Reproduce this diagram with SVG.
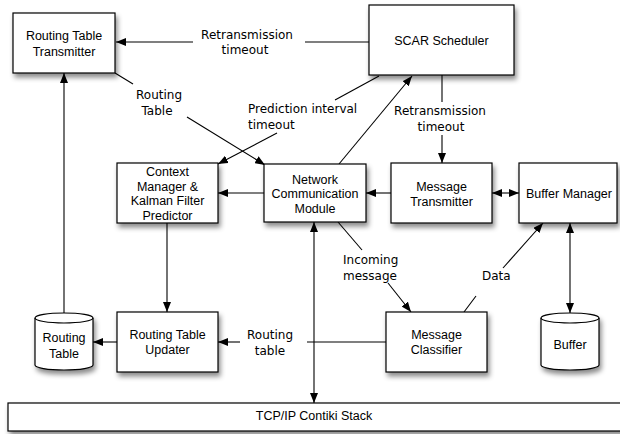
<svg xmlns="http://www.w3.org/2000/svg" width="620" height="434" viewBox="0 0 620 434">
<style>
.box{fill:#fff;stroke:#000;stroke-width:1.2;filter:url(#sh)}
.t{font-family:"Liberation Sans",Arial,sans-serif;font-size:12.5px;text-anchor:middle;fill:#000}
.l{font-family:"DejaVu Sans",sans-serif;font-size:12px;fill:#000}
.c{text-anchor:middle}
.ln{stroke:#000;stroke-width:1.1;fill:none}
.a{marker-end:url(#ar)}
.b{marker-end:url(#ar);marker-start:url(#ar)}
</style>
<defs>
<filter id="sh" x="-20%" y="-20%" width="150%" height="160%">
<feDropShadow dx="2" dy="4" stdDeviation="2.5" flood-color="#000" flood-opacity="0.45"/>
</filter>
<marker id="ar" markerUnits="userSpaceOnUse" markerWidth="10" markerHeight="8" refX="10" refY="4" orient="auto-start-reverse">
<path d="M0,0 L10,4 L0,8 z" fill="#000"/>
</marker>
</defs>
<rect width="620" height="434" fill="#fff"/>

<g id="connectors">
<line class="ln" x1="369" y1="42" x2="305" y2="42"/>
<line class="ln a" x1="193" y1="42" x2="116" y2="42"/>
<line class="ln" x1="115" y1="73" x2="133" y2="84"/>
<line class="ln a" x1="187" y1="117" x2="265" y2="165"/>
<line class="ln" x1="379" y1="76" x2="335" y2="100"/>
<line class="ln a" x1="277" y1="133" x2="218" y2="164"/>
<line class="ln a" x1="339" y1="164" x2="412" y2="76"/>
<line class="ln" x1="442" y1="75" x2="442" y2="102"/>
<line class="ln a" x1="442" y1="135" x2="442" y2="163"/>
<line class="ln a" x1="264" y1="193" x2="218" y2="193"/>
<line class="ln a" x1="391" y1="193" x2="366" y2="193"/>
<line class="ln b" x1="492" y1="193" x2="519" y2="193"/>
<line class="ln a" x1="167" y1="223" x2="167" y2="312"/>
<line class="ln a" x1="117" y1="342" x2="93" y2="342"/>
<line class="ln a" x1="64" y1="313" x2="64" y2="73"/>
<line class="ln" x1="386" y1="342" x2="307" y2="342"/>
<line class="ln a" x1="240" y1="342" x2="218" y2="342"/>
<line class="ln b" x1="314" y1="222" x2="314" y2="403"/>
<line class="ln" x1="338" y1="222" x2="362" y2="250"/>
<line class="ln a" x1="388" y1="283" x2="411" y2="312"/>
<line class="ln" x1="464" y1="312" x2="476" y2="296"/>
<line class="ln a" x1="503" y1="268" x2="543" y2="223"/>
<line class="ln b" x1="570" y1="223" x2="570" y2="313"/>
</g>

<g id="labels">
<text class="l c" x="247" y="38.5">Retransmission</text>
<text class="l c" x="245" y="54">timeout</text>
<text class="l c" x="159" y="98.5">Routing</text>
<text class="l c" x="157" y="114.5">Table</text>
<text class="l" x="248" y="112.5">Prediction interval</text>
<text class="l" x="248" y="128.5">timeout</text>
<text class="l c" x="440" y="114.5">Retransmission</text>
<text class="l c" x="441" y="130.5">timeout</text>
<text class="l" x="343" y="263.5">Incoming</text>
<text class="l" x="343" y="279.5">message</text>
<text class="l" x="482" y="279.5">Data</text>
<text class="l c" x="270" y="338.5">Routing</text>
<text class="l c" x="270" y="354.5">table</text>
</g>

<g id="routing-table-transmitter">
<rect class="box" x="13" y="13" width="102" height="60"/>
<text class="t" x="64" y="39.5">Routing Table</text>
<text class="t" x="64" y="55.5">Transmitter</text>
</g>

<g id="scar-scheduler">
<rect class="box" x="369" y="5" width="145" height="70"/>
<text class="t" x="441.5" y="45">SCAR Scheduler</text>
</g>

<g id="context-manager">
<rect class="box" x="117" y="163" width="101" height="60"/>
<text class="t" x="167.5" y="176">Context</text>
<text class="t" x="167.5" y="190.5">Manager &amp;</text>
<text class="t" x="167.5" y="205">Kalman Filter</text>
<text class="t" x="167.5" y="219.5">Predictor</text>
</g>

<g id="network-communication-module">
<rect class="box" x="264" y="164" width="102" height="58"/>
<text class="t" x="315" y="183.5">Network</text>
<text class="t" x="315" y="198">Communication</text>
<text class="t" x="315" y="212.5">Module</text>
</g>

<g id="message-transmitter">
<rect class="box" x="391" y="163" width="101" height="60"/>
<text class="t" x="441.5" y="191">Message</text>
<text class="t" x="441.5" y="206">Transmitter</text>
</g>

<g id="buffer-manager">
<rect class="box" x="519" y="163" width="98" height="60"/>
<text class="t" x="569" y="197.5">Buffer Manager</text>
</g>

<g id="routing-table-updater">
<rect class="box" x="117" y="312" width="101" height="60"/>
<text class="t" x="167.5" y="338.5">Routing Table</text>
<text class="t" x="167.5" y="353.5">Updater</text>
</g>

<g id="message-classifier">
<rect class="box" x="386" y="312" width="101" height="60"/>
<text class="t" x="436.5" y="338.5">Message</text>
<text class="t" x="436.5" y="354">Classifier</text>
</g>

<g id="routing-table-db">
<path class="box" d="M35,318 A29,5 0 0 1 93,318 L93,365 A29,5 0 0 1 35,365 Z"/>
<path class="ln" d="M35,318 A29,5 0 0 0 93,318"/>
<text class="t" x="64" y="342">Routing</text>
<text class="t" x="64" y="357.5">Table</text>
</g>

<g id="buffer-db">
<path class="box" d="M541,318 A29,5 0 0 1 599,318 L599,365 A29,5 0 0 1 541,365 Z"/>
<path class="ln" d="M541,318 A29,5 0 0 0 599,318"/>
<text class="t" x="570" y="348.5">Buffer</text>
</g>

<g id="tcpip-stack">
<rect class="box" x="8" y="403" width="620" height="28"/>
<text class="t" x="314" y="420">TCP/IP Contiki Stack</text>
</g>
</svg>
